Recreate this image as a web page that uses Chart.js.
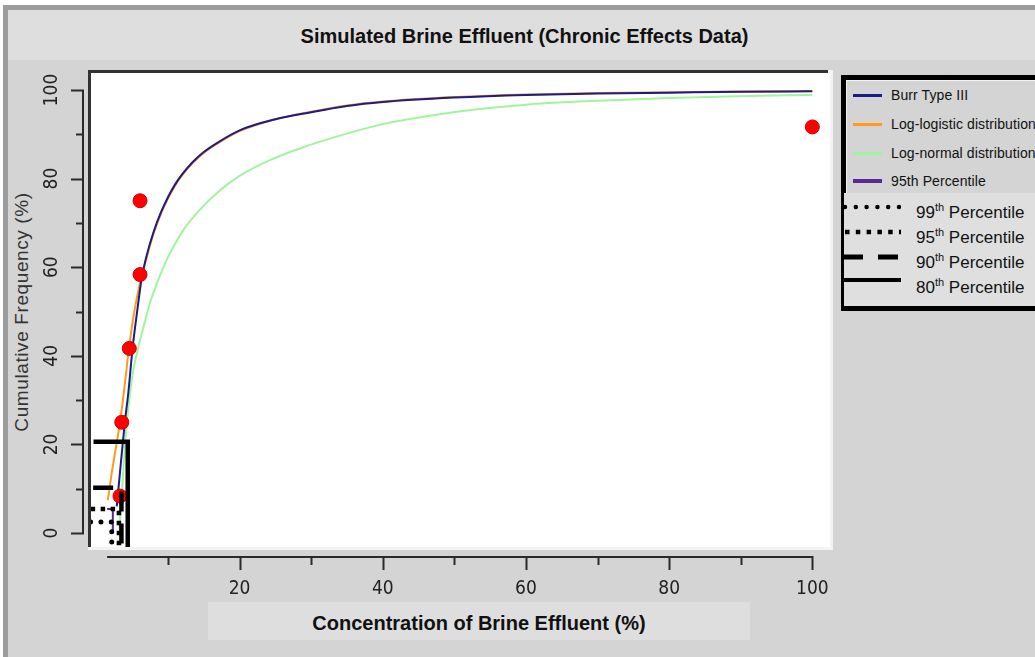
<!DOCTYPE html>
<html>
<head>
<meta charset="utf-8">
<script src="https://cdn.jsdelivr.net/npm/chart.js@4.4.1/dist/chart.umd.min.js"></script>
<style>
  html, body { margin: 0; padding: 0; width: 1035px; height: 657px; overflow: hidden; background: #fff; font-family: "Liberation Sans", Arial, sans-serif; }
  .abs { position: absolute; }
  #frame { left: 3px; top: 5px; width: 1032px; height: 652px; box-sizing: border-box; border-top: 5px solid #9c9c9c; border-left: 5px solid #9c9c9c; background: #d4d4d4; }
  #titlebar { left: 8px; top: 10px; width: 1027px; height: 50px; background: #dedede; }
  #title { left: 8px; top: 10px; width: 1033px; height: 50px; line-height: 52px; text-align: center; font-weight: bold; font-size: 20px; color: #111; }
  #xtitle { left: 208px; top: 602px; width: 542px; height: 38px; line-height: 42px; background: #dedede; text-align: center; font-weight: bold; font-size: 20px; color: #111; }
  #ytitle { left: 22px; top: 312px; transform: translate(-50%, -50%) rotate(-90deg); white-space: nowrap; font-size: 19px; letter-spacing: 0.6px; color: #333; }
  canvas { position: absolute; left: 0; top: 0; }
  #legend { left: 841px; top: 75px; width: 200px; height: 236px; box-sizing: border-box; border: 5px solid #000; background: #d4d4d4; }
  #legendInner { left: 846px; top: 80px; width: 190px; height: 113px; border-left: 1px solid #f2f2f2; border-top: 1px solid #f2f2f2; }
  #legendLow { left: 844px; top: 193px; width: 191px; height: 113px; background: #dfdfdf; }
  .swatch { position: absolute; height: 3px; width: 29px; left: 853px; }
  .ltext { position: absolute; left: 891px; font-size: 14px; color: #111; white-space: nowrap; line-height: 16px; letter-spacing: 0.1px; }
  .ptext { position: absolute; left: 916px; font-size: 17px; color: #111; white-space: nowrap; line-height: 20px; }
  .ptext sup { font-size: 11px; vertical-align: 7px; line-height: 0; }
  svg.pline { position: absolute; left: 843px; }
</style>
</head>
<body>
<div id="frame" class="abs"></div>
<div id="titlebar" class="abs"></div>
<div id="title" class="abs">Simulated Brine Effluent (Chronic Effects Data)</div>
<div id="xtitle" class="abs">Concentration of Brine Effluent (%)</div>
<div id="ytitle" class="abs">Cumulative Frequency (%)</div>
<canvas id="chart" width="1035" height="657"></canvas>

<div id="legend" class="abs"></div>
<div id="legendInner" class="abs"></div>
<div id="legendLow" class="abs"></div>

<div class="swatch" style="top:94px; background:#1c1c86;"></div>
<div class="ltext" style="top:87px;">Burr Type III</div>
<div class="swatch" style="top:123px; background:#ff9a1c;"></div>
<div class="ltext" style="top:116px;">Log-logistic distribution</div>
<div class="swatch" style="top:152px; background:#9ef59e;"></div>
<div class="ltext" style="top:145px;">Log-normal distribution</div>
<div class="swatch" style="top:179px; height:4px; background:#5a2a93;"></div>
<div class="ltext" style="top:173px;">95th Percentile</div>

<svg class="pline" style="top:202px;" width="58" height="10"><line x1="2" y1="5" x2="58" y2="5" stroke="#000" stroke-width="4.5" stroke-linecap="round" stroke-dasharray="0 10.8"/></svg>
<div class="ptext" style="top:203px;">99<sup>th</sup> Percentile</div>
<svg class="pline" style="top:227px;" width="58" height="10"><line x1="2" y1="5" x2="58" y2="5" stroke="#000" stroke-width="4.5" stroke-dasharray="4.5 6.3"/></svg>
<div class="ptext" style="top:228px;">95<sup>th</sup> Percentile</div>
<svg class="pline" style="top:252px;" width="58" height="10"><line x1="0" y1="5" x2="58" y2="5" stroke="#000" stroke-width="5" stroke-dasharray="20 15"/></svg>
<div class="ptext" style="top:253px;">90<sup>th</sup> Percentile</div>
<svg class="pline" style="top:275px;" width="58" height="10"><line x1="0" y1="5" x2="58" y2="5" stroke="#000" stroke-width="4"/></svg>
<div class="ptext" style="top:278px;">80<sup>th</sup> Percentile</div>

<script>
// observed toxicity points (concentration %, cumulative frequency %)
const obsConc = [3.3, 3.55, 4.6, 6.1, 6.1, 100];
const obsFreq = [8.33, 25, 41.67, 58.33, 75, 91.67];

// fitted distributions
const burrConc = [2.85, 3.2, 3.67, 4.0, 4.46, 5.07, 5.71, 6.33, 7.0, 8.0, 9.0, 10.0, 11.0, 12.0, 13.5, 15, 17, 20, 25, 30, 35, 40, 50, 60, 70, 80, 90, 100];
const burrFreq = [6, 12, 20, 25.3, 31.6, 41.9, 50.2, 57.5, 62.5, 68, 72.3, 75.8, 78.7, 81, 83.8, 86, 88.2, 90.9, 93.4, 95, 96.4, 97.3, 98.3, 98.9, 99.2, 99.4, 99.6, 99.7];

const logLogConc = [1.6, 2.14, 2.7, 3.3, 4.0, 4.57, 5.3, 6.1, 7.0, 8.0, 9.0, 10.0, 11.0, 12.0, 13.5, 15, 17, 20, 25, 30, 35, 40, 50, 60, 70, 80, 90, 100];
const logLogFreq = [7.4, 13.5, 19, 25, 34, 42, 50, 56.5, 62, 67.6, 72, 75.5, 78.4, 80.8, 83.6, 85.8, 88, 90.7, 93.4, 95.1, 96.5, 97.4, 98.4, 99.0, 99.3, 99.5, 99.65, 99.75];

const logNormConc = [3.2, 3.5, 3.8, 4.2, 4.6, 5.0, 5.8, 6.6, 7.5, 8.5, 9.8, 11.0, 12.5, 14.4, 17, 20, 24, 28.4, 34, 40, 47, 53.5, 60, 67.5, 80, 89.6, 100];
const logNormFreq = [1, 7, 15, 24, 30, 35.3, 41.5, 46.6, 52, 56.5, 61.6, 65.3, 69.2, 72.9, 77, 80.6, 84, 86.8, 89.7, 92.3, 94.3, 95.7, 96.7, 97.4, 98.2, 98.6, 98.9];

// hazard concentration guides: horizontal at the percentile, then down to the axis
const p80Conc = [-0.4, 4.38, 4.38];
const p80Freq = [20.6, 20.6, -3.2];
const p90Conc = [-0.45, 3.5, 3.5];
const p90Freq = [10.2, 10.2, -3.2];
const p95Conc = [-0.8, 3.15, 3.15];
const p95Freq = [5.4, 5.4, -3.2];
const p99Conc = [-0.8, 2.15, 2.15];
const p99Freq = [2.5, 2.5, -3.2];
const burr95Conc = [1.5, 2.3, 2.3];
const burr95Freq = [5.4, 5.4, 0.5];

// axes
const xTicks = [10, 20, 30, 40, 50, 60, 70, 80, 90, 100];
const xTickLabels = [20, 40, 60, 80, 100];
const yTicks = [0, 10, 20, 30, 40, 50, 60, 70, 80, 90, 100];
const yTickLabels = [0, 20, 40, 60, 80, 100];
const xRange = [-0.75, 102.47];
const yRange = [-3.16, 103.84];
const xAxisFrom = 1.5;

const toXY = (xs, ys) => xs.map((x, i) => ({ x: x, y: ys[i] }));

const curve = (data, color, order) => ({
    data: data,
    showLine: true,
    borderColor: color,
    borderWidth: 2,
    pointRadius: 0,
    cubicInterpolationMode: 'monotone',
    order: order
});

const guide = (data, dash, cap, width, color) => ({
    data: data,
    showLine: true,
    borderColor: color || '#000',
    borderWidth: width,
    borderDash: dash,
    borderCapStyle: cap,
    borderJoinStyle: 'miter',
    pointRadius: 0,
    tension: 0,
    order: 0
});

const tickFont = '19px "Liberation Sans Narrow", "DejaVu Sans Condensed", Arial, sans-serif';

// white plot area with an inset border, plus hand-drawn axes set off from it
const plotFrame = {
    id: 'plotFrame',
    beforeDraw(chart) {
        const { ctx, chartArea: a } = chart;
        ctx.save();
        ctx.fillStyle = '#f3f3f3';
        ctx.fillRect(a.left - 3, a.top - 3, a.right - a.left + 6, a.bottom - a.top + 6);
        ctx.fillStyle = '#fff';
        ctx.fillRect(a.left, a.top, a.right - a.left, a.bottom - a.top);
        ctx.fillStyle = '#333';
        ctx.fillRect(a.left - 3, a.top - 3, a.right - a.left + 1, 3);
        ctx.fillRect(a.left - 3, a.top - 3, 3, a.bottom - a.top + 3);
        ctx.restore();
    },
    afterDraw(chart) {
        const { ctx, chartArea: a } = chart;
        const xs = chart.scales.x, ys = chart.scales.y;
        ctx.save();
        ctx.strokeStyle = '#2a2a2a';
        ctx.fillStyle = '#222';
        ctx.lineWidth = 2;
        ctx.font = tickFont;

        // y axis
        const axX = a.left - 8;
        ctx.beginPath();
        ctx.moveTo(axX, ys.getPixelForValue(yTicks[0]));
        ctx.lineTo(axX, ys.getPixelForValue(yTicks[yTicks.length - 1]));
        yTicks.forEach(v => {
            const py = Math.round(ys.getPixelForValue(v)) + 0.5;
            const len = yTickLabels.includes(v) ? 12 : 7;
            ctx.moveTo(axX - len, py);
            ctx.lineTo(axX + 1, py);
        });
        ctx.stroke();
        ctx.textAlign = 'center';
        ctx.textBaseline = 'middle';
        yTickLabels.forEach(v => {
            ctx.save();
            ctx.translate(a.left - 39, ys.getPixelForValue(v));
            ctx.rotate(-Math.PI / 2);
            ctx.fillText(String(v), 0, 0);
            ctx.restore();
        });

        // x axis
        const axY = a.bottom + 10;
        ctx.beginPath();
        ctx.moveTo(xs.getPixelForValue(xAxisFrom), axY);
        ctx.lineTo(xs.getPixelForValue(xTicks[xTicks.length - 1]) + 1, axY);
        xTicks.forEach(v => {
            const px = Math.round(xs.getPixelForValue(v)) + 0.5;
            const len = xTickLabels.includes(v) ? 13 : 8;
            ctx.moveTo(px, axY - 1);
            ctx.lineTo(px, axY + len);
        });
        ctx.stroke();
        xTickLabels.forEach(v => {
            ctx.fillText(String(v), xs.getPixelForValue(v), a.bottom + 42);
        });
        ctx.restore();
    }
};

new Chart(document.getElementById('chart'), {
    type: 'scatter',
    data: {
        datasets: [
            guide(toXY(p80Conc, p80Freq), [], 'butt', 4.5),
            guide(toXY(p90Conc, p90Freq), [20, 12], 'butt', 4.5),
            guide(toXY(p95Conc, p95Freq), [4.5, 5.5], 'butt', 4.5),
            guide(toXY(p99Conc, p99Freq), [0.01, 10.3], 'round', 5),
            guide(toXY(burr95Conc, burr95Freq), [], 'butt', 2, '#5a2a93'),
            {
                data: toXY(obsConc, obsFreq),
                showLine: false,
                pointRadius: 7,
                pointBackgroundColor: '#ff0000',
                pointBorderColor: '#d40000',
                pointBorderWidth: 1,
                order: 1
            },
            curve(toXY(burrConc, burrFreq), '#1c1c86', 2),
            curve(toXY(logLogConc, logLogFreq), '#ff9a1c', 3),
            curve(toXY(logNormConc, logNormFreq), '#9ef59e', 4)
        ]
    },
    options: {
        responsive: false,
        animation: false,
        layout: { padding: { left: 91, top: 73, right: 205, bottom: 110 } },
        plugins: {
            legend: { display: false },
            tooltip: { enabled: false },
            title: { display: false }
        },
        scales: {
            x: { type: 'linear', display: false, min: xRange[0], max: xRange[1] },
            y: { type: 'linear', display: false, min: yRange[0], max: yRange[1] }
        }
    },
    plugins: [plotFrame]
});
</script>
</body>
</html>
